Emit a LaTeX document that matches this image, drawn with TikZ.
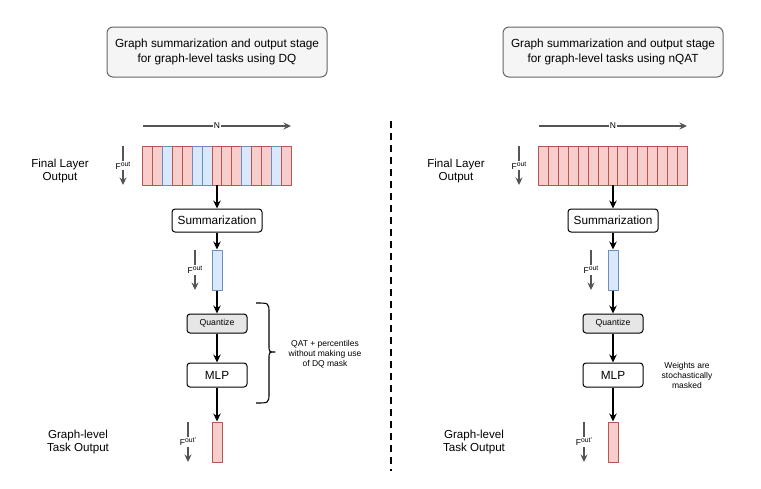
\documentclass[tikz,border=0pt]{standalone}
\usepackage{fontspec}
\setmainfont{Liberation Sans}
\usetikzlibrary{arrows.meta}
\definecolor{redfill}{HTML}{F8CECC}
\definecolor{redline}{HTML}{B85450}
\definecolor{bluefill}{HTML}{DAE8FC}
\definecolor{blueline}{HTML}{6C8EBF}
\definecolor{quantfill}{HTML}{E6E6E6}
\definecolor{titlefill}{HTML}{F5F5F5}
\definecolor{titleline}{HTML}{666666}
\definecolor{arrgray}{HTML}{555555}
\newcommand{\fsup}[1]{F\raisebox{3.2pt}{\fontsize{6.8}{7}\selectfont #1}}
\tikzset{
	titlebox/.style={draw=titleline, fill=titlefill, rounded corners=6pt, line width=1pt,
		minimum width=220pt, minimum height=50pt, align=center,
		font=\fontsize{11.8}{15.3}\selectfont},
	blockbox/.style={draw, rounded corners=3pt, line width=1pt, minimum height=#1,
		font=\fontsize{11.8}{14}\selectfont},
	quantbox/.style={blockbox=19pt, fill=quantfill, minimum width=60pt, font=\fontsize{8.7}{10}\selectfont},
	vecbox/.style={draw=#1line, fill=#1fill, line width=1pt, minimum width=10pt, minimum height=40pt, inner sep=0pt},
	cellR/.style={draw=redline, fill=redfill, line width=1pt},
	cellB/.style={draw=blueline, fill=bluefill, line width=1pt},
	sidelabel/.style={align=center, font=\fontsize{11.6}{13.5}\selectfont},
	note/.style={align=center, font=\fontsize{8.5}{10}\selectfont},
	conn/.style={-{Stealth[length=8pt,width=7.5pt]}, line width=1.2pt},
	farrow/.style={-{Stealth[length=7.5pt,width=7pt]}, draw=arrgray, line width=1.1pt},
	flab/.style={fill=white, inner sep=0.8pt, font=\fontsize{8.5}{10}\selectfont},
}
\begin{document}
\begin{tikzpicture}[x=1pt, y=-1pt, line join=round]
	\useasboundingbox (0,0) rectangle (761,488);
	% left panel: DQ
	\node[titlebox] (titleL) at (217,52) {Graph summarization and output stage\\for graph-level tasks using DQ};
	\coordinate (nL0) at (143,126); \coordinate (nL1) at (291,126);
	\draw[farrow] (nL0) -- node[flab]{N} (nL1);
	\node[minimum width=149pt, minimum height=39pt, inner sep=0pt] (layL) at (217,165.5) {};
	\foreach \c [count=\i from 0] in {R,R,B,R,R,B,B,R,R,R,B,R,R,B,R}
		\draw[cell\c] (142.5+\i*9.933,146) rectangle ++(9.933,39);
	\node[sidelabel] (labFL) at (60,171) {Final Layer\\Output};
	\coordinate (fL0) at (123,146); \coordinate (fL1) at (123,185);
	\draw[farrow] (fL0) -- node[flab]{\fsup{out}} (fL1);
	\node[blockbox=23pt, minimum width=90pt] (sumL) at (217,220.5) {Summarization};
	\node[vecbox=blue] (vecL) at (217,270) {};
	\coordinate (gL0) at (195,250); \coordinate (gL1) at (195,290);
	\draw[farrow] (gL0) -- node[flab]{\fsup{out}} (gL1);
	\node[quantbox] (quantL) at (217,323.5) {Quantize};
	\node[blockbox=24pt, minimum width=60pt] (mlpL) at (217,375) {MLP};
	\node[vecbox=red] (outL) at (217,442) {};
	\coordinate (hL0) at (188,422); \coordinate (hL1) at (188,462);
	\draw[farrow] (hL0) -- node[flab]{\fsup{out'}} (hL1);
	\node[sidelabel] (labTL) at (78,442) {Graph-level\\Task Output};
	\draw[conn] (layL) -- (sumL);
	\draw[conn] (sumL) -- (vecL);
	\draw[conn] (vecL) -- (quantL);
	\draw[conn] (quantL) -- (mlpL);
	\draw[conn] (mlpL) -- (outL);
	\draw[line width=1.1pt] (256,303) .. controls (269,303) .. (269,313) -- (269,345)
		.. controls (269,352) .. (275,352) .. controls (269,352) .. (269,359)
		-- (269,393) .. controls (269,403) .. (256,403);
	\node[note] (braceL) at (325,354) {QAT + percentiles\\without making use\\of DQ mask};
	% divider
	\coordinate (divT) at (391,121); \coordinate (divB) at (391,471);
	\draw[line width=2pt, dash pattern=on 7pt off 5pt] (divT) -- (divB);
	% right panel: nQAT
	\node[titlebox] (titleR) at (613,52) {Graph summarization and output stage\\for graph-level tasks using nQAT};
	\coordinate (nR0) at (539,126); \coordinate (nR1) at (687,126);
	\draw[farrow] (nR0) -- node[flab]{N} (nR1);
	\node[minimum width=149pt, minimum height=39pt, inner sep=0pt] (layR) at (613,165.5) {};
	\foreach \i in {0,...,14}
		\draw[cellR] (538.5+\i*9.933,146) rectangle ++(9.933,39);
	\node[sidelabel] (labFR) at (456,171) {Final Layer\\Output};
	\coordinate (fR0) at (519,146); \coordinate (fR1) at (519,185);
	\draw[farrow] (fR0) -- node[flab]{\fsup{out}} (fR1);
	\node[blockbox=23pt, minimum width=90pt] (sumR) at (613,220.5) {Summarization};
	\node[vecbox=blue] (vecR) at (613,270) {};
	\coordinate (gR0) at (591,250); \coordinate (gR1) at (591,290);
	\draw[farrow] (gR0) -- node[flab]{\fsup{out}} (gR1);
	\node[quantbox] (quantR) at (613,323.5) {Quantize};
	\node[blockbox=24pt, minimum width=60pt] (mlpR) at (613,375) {MLP};
	\node[vecbox=red] (outR) at (613,442) {};
	\coordinate (hR0) at (584,422); \coordinate (hR1) at (584,462);
	\draw[farrow] (hR0) -- node[flab]{\fsup{out'}} (hR1);
	\node[sidelabel] (labTR) at (474,442) {Graph-level\\Task Output};
	\draw[conn] (layR) -- (sumR);
	\draw[conn] (sumR) -- (vecR);
	\draw[conn] (vecR) -- (quantR);
	\draw[conn] (quantR) -- (mlpR);
	\draw[conn] (mlpR) -- (outR);
	\node[note] (noteR) at (687,375) {Weights are\\stochastically\\masked};
\end{tikzpicture}
\end{document}
